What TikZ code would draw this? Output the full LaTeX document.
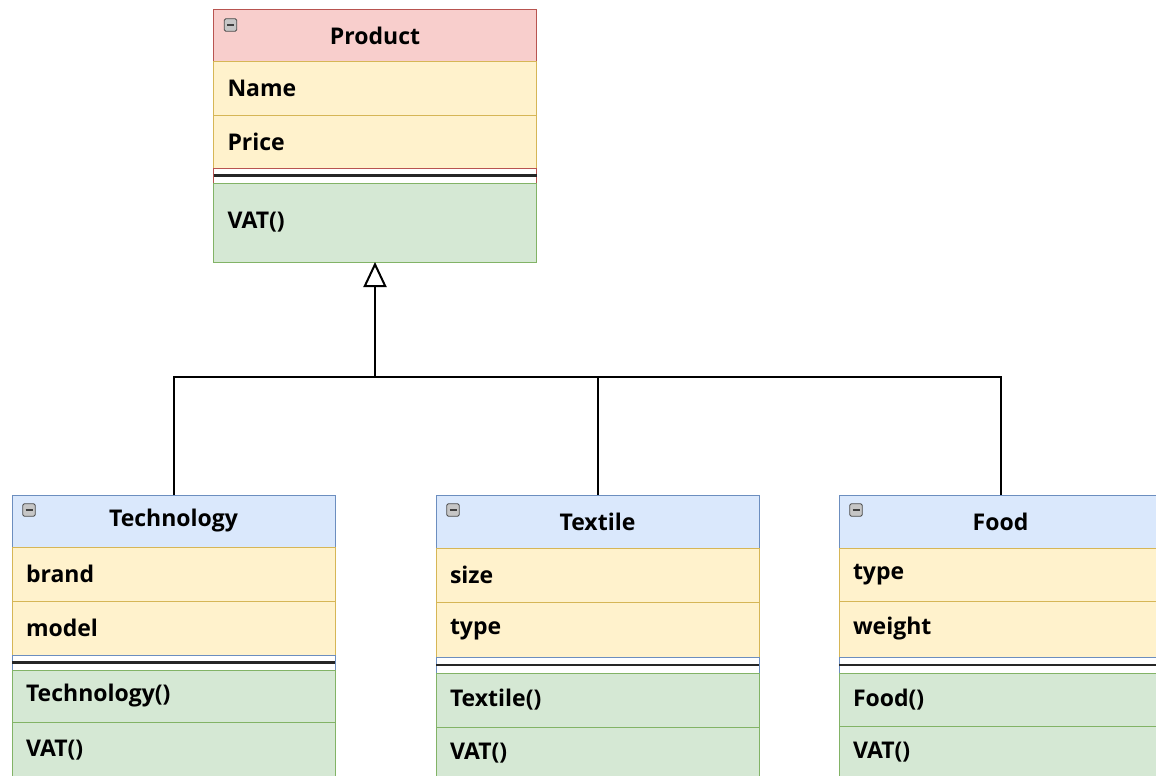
\documentclass[tikz,border=0pt]{standalone}
\usepackage{fontspec}
\setmainfont{Open Sans}
\usetikzlibrary{positioning, arrows.meta}

\definecolor{hdred}{HTML}{F8CECC}
\definecolor{lnred}{HTML}{B85450}
\definecolor{hdblue}{HTML}{DAE8FC}
\definecolor{lnblue}{HTML}{6C8EBF}
\definecolor{attfill}{HTML}{FFF2CC}
\definecolor{attline}{HTML}{D6B656}
\definecolor{metfill}{HTML}{D5E8D4}
\definecolor{metline}{HTML}{82B366}

\tikzset{
  row/.style={anchor=north, minimum width=323pt, text width=295pt,
    inner xsep=14pt, inner ysep=0pt, outer sep=0pt, align=left, line width=1pt,
    font=\fontsize{23}{27}\selectfont\bfseries},
  hdr/.style={row, align=center, minimum height=53pt},
  attr/.style={row, fill=attfill, draw=attline, minimum height=54pt},
  meth/.style={row, fill=metfill, draw=metline, minimum height=54pt},
  gap/.style={row, fill=white, minimum height=16pt},
  sepline/.style={line width=2.5pt, black!85},
  icon/.style={minimum size=12.5pt, inner sep=0pt, fill=gray!45,
    draw=gray!60!black, rounded corners=1.5pt, line width=0.8pt},
  minus/.style={line width=2pt, black!75},
  link/.style={line width=2pt, black}
}

\begin{document}
\begin{tikzpicture}[x=1pt, y=-1pt]
\useasboundingbox (0,0) rectangle (1156,776);
\fill[white] (0,0) rectangle (1156,776);
\clip (0,0) rectangle (1156,776);

% superclass
\node[hdr, fill=hdred, draw=lnred, minimum height=52pt] (prodhd) at (375,10) {Product};
\node[attr, below=0pt of prodhd, minimum height=53pt] (prodname) {Name};
\node[attr, below=0pt of prodname, minimum height=53pt] (prodprice) {Price};
\node[gap, draw=lnred, below=0pt of prodprice, minimum height=15pt] (prodgap) {};
\node[meth, below=0pt of prodgap, minimum height=79pt] (prodvat) {VAT()};

% subclasses
\node[hdr, fill=hdblue, draw=lnblue, minimum height=52pt] (techhd) at (173.5,495) {Technology};
\node[attr, below=0pt of techhd] (techbrand) {brand};
\node[attr, below=0pt of techbrand] (techmodel) {model};
\node[gap, draw=lnblue, below=0pt of techmodel, minimum height=15pt] (techgap) {};
\node[meth, below=0pt of techgap, minimum height=52pt] (techctor) {Technology()};
\node[meth, below=0pt of techctor, minimum height=56pt] (techvat) {VAT()};

\node[hdr, fill=hdblue, draw=lnblue] (texthd) at (597.5,495) {Textile};
\node[attr, below=0pt of texthd] (textsize) {size};
\node[attr, below=0pt of textsize, minimum height=55pt] (texttype) {type};
\node[gap, draw=lnblue, below=0pt of texttype] (textgap) {};
\node[meth, below=0pt of textgap] (textctor) {Textile()};
\node[meth, below=0pt of textctor, minimum height=52pt] (textvat) {VAT()};

\node[hdr, fill=hdblue, draw=lnblue] (foodhd) at (1000.5,495) {Food};
\node[attr, below=0pt of foodhd, minimum height=53pt] (foodtype) {type};
\node[attr, below=0pt of foodtype, minimum height=56pt] (foodweight) {weight};
\node[gap, draw=lnblue, below=0pt of foodweight] (foodgap) {};
\node[meth, below=0pt of foodgap, minimum height=53pt] (foodctor) {Food()};
\node[meth, below=0pt of foodctor, minimum height=52pt] (foodvat) {VAT()};

% separators and collapse icons
\foreach \c in {prod, tech, text, food} {
  \draw[sepline] (\c gap.west) -- (\c gap.east);
  \node[icon] (\c ic) at ([xshift=17pt, yshift=-15pt]\c hd.north west) {};
  \draw[minus] ([xshift=-3.5pt]\c ic.center) -- ([xshift=3.5pt]\c ic.center);
}

% inheritance
\coordinate (jn) at (375,377);
\draw[link] (techhd.north) |- (jn) -| (foodhd.north);
\draw[link] (texthd.north) -- (texthd.north |- jn);
\draw[link, -{Triangle[open, length=25pt, width=23pt]}] (jn) -- (prodvat.south);
\end{tikzpicture}
\end{document}
